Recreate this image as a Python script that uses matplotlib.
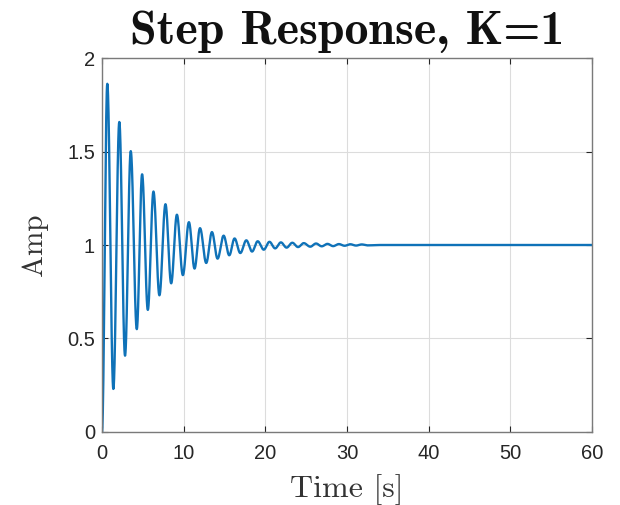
import matplotlib
matplotlib.use("Agg")
import matplotlib.pyplot as plt
from matplotlib.font_manager import FontProperties
import numpy as np

plt.rcParams["font.family"] = ["Liberation Sans", "DejaVu Sans"]
ttf_dir = matplotlib.get_data_path() + "/fonts/ttf/"

# extrema of the response (time [s], amplitude)
peak_t = [0.65, 2.12, 3.52, 4.91, 6.30, 7.77, 9.17, 10.64, 12.0, 13.46,
          14.89, 16.23, 17.67, 19.06, 20.5, 21.9, 23.3, 24.7, 26.2, 27.6,
          29.0, 30.4, 31.8]
peak_v = [1.862, 1.658, 1.502, 1.378, 1.286, 1.218, 1.162, 1.122, 1.09,
          1.069, 1.05, 1.035, 1.025, 1.020, 1.017, 1.014, 1.012, 1.010,
          1.008, 1.006, 1.005, 1.004, 1.003]
trough_t = [1.39, 2.82, 4.26, 5.61, 7.03, 8.47, 9.9, 11.33, 12.76, 14.15,
            15.58, 16.93, 18.37, 19.8, 21.2, 22.6, 24.0, 25.5, 26.9, 28.3,
            29.7, 31.1, 32.5]
trough_v = [0.23, 0.408, 0.55, 0.653, 0.731, 0.795, 0.839, 0.874, 0.904,
            0.927, 0.945, 0.957, 0.965, 0.975, 0.982, 0.986, 0.989, 0.991,
            0.993, 0.994, 0.996, 0.997, 0.998]
start = (0.0, 0.0)
settle = [(34.0, 1.0), (60.0, 1.0)]

# knots in time order
knots = [start]
for p, pv, q, qv in zip(peak_t, peak_v, trough_t, trough_v):
    knots.append((p, pv))
    knots.append((q, qv))
knots += settle

# smooth half-cosine segments between knots
tt, yy = [], []
for (t0, v0), (t1, v1) in zip(knots[:-1], knots[1:]):
    s = np.linspace(0, 1, 40, endpoint=False)
    tt.append(t0 + (t1 - t0) * s)
    yy.append(v0 + (v1 - v0) * (1 - np.cos(np.pi * s)) / 2)
tt.append([knots[-1][0]])
yy.append([knots[-1][1]])
tt = np.concatenate(tt)
yy = np.concatenate(yy)

fig = plt.figure(figsize=(6.2, 5.05), dpi=100)
ax = fig.add_axes([0.1645, 0.1446, 0.7905, 0.7405])

ax.plot(tt, yy, color="#0f72b8", lw=1.7)

ax.set_xlim(0, 60)
ax.set_ylim(0, 2)
ax.set_xticks([0, 10, 20, 30, 40, 50, 60])
ax.set_yticks([0, 0.5, 1, 1.5, 2])
ax.set_yticklabels(["0", "0.5", "1", "1.5", "2"])
ax.grid(True, color="#dcdcdc", lw=0.8)
ax.set_axisbelow(True)
ax.tick_params(direction="in", length=4, width=0.8, colors="#262626",
               labelsize=14.5, top=True, right=True)
ax.tick_params(axis="x", pad=9)
ax.tick_params(axis="y", pad=5)
for sp in ax.spines.values():
    sp.set_color("#7a7a7a")
    sp.set_linewidth(1.0)

bold_cm = FontProperties(fname=ttf_dir + "cmb10.ttf", size=34.5)
roman_cm = FontProperties(fname=ttf_dir + "cmr10.ttf", size=23)
ylab_cm = FontProperties(fname=ttf_dir + "cmr10.ttf", size=21)
ax.set_title("Step Response, K=1", fontproperties=bold_cm, pad=10,
             color="#111111")
ax.set_xlabel("Time [s]", fontproperties=roman_cm, color="#333333",
              labelpad=8)
ax.set_ylabel("Amp", fontproperties=ylab_cm, color="#333333", labelpad=14)

fig.savefig("out.png", dpi=100)
